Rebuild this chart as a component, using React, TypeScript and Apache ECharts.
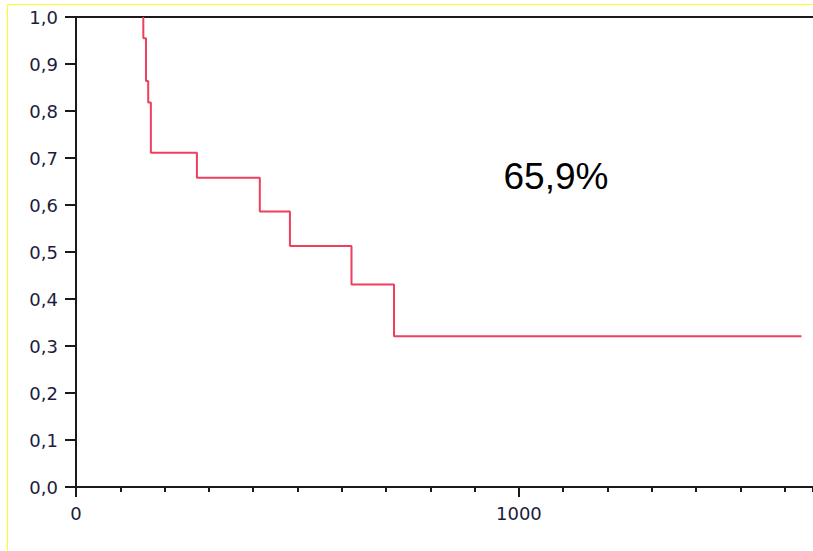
import React, { useEffect, useRef } from "react";
import * as echarts from "echarts";

// Kaplan-Meier style survival curve
const eventTimes = [152, 158, 163, 169, 273, 415, 483, 622, 718];
const survival = [0.955, 0.864, 0.818, 0.711, 0.658, 0.586, 0.513, 0.431, 0.321];
const lastFollowUp = 1638;
const startValue = 1.0;
const xLabelValues = [0, 1000];
const yTickValues = [0, 0.1, 0.2, 0.3, 0.4, 0.5, 0.6, 0.7, 0.8, 0.9, 1.0];
const annotation = "65,9%";

const X_MAX = 1664;

export default function App() {
  const ref = useRef<HTMLDivElement>(null);
  useEffect(() => {
    if (!ref.current) return;
    const chart = echarts.init(ref.current, undefined, { renderer: "svg" });
    const data: [number, number][] = [[eventTimes[0], startValue]];
    eventTimes.forEach((t, i) => data.push([t, survival[i]]));
    data.push([lastFollowUp, survival[survival.length - 1]]);

    const labelColor = "#1c1c3c";
    const lineColor = "#1a1a1a";
    const labelFont = "DejaVu Sans, Verdana, sans-serif";
    chart.setOption({
      animation: false,
      backgroundColor: "#ffffff",
      grid: { left: 76, top: 17, right: 0, bottom: 64, containLabel: false },
      xAxis: [
        {
          type: "value",
          position: "bottom",
          min: 0,
          max: X_MAX,
          interval: 1000,
          splitLine: { show: false },
          axisLine: { show: true, lineStyle: { color: lineColor, width: 2 } },
          axisTick: { show: true, length: 10, lineStyle: { color: lineColor, width: 2 } },
          axisLabel: {
            show: true,
            margin: 17,
            showMaxLabel: false,
            fontFamily: labelFont,
            fontSize: 18,
            color: labelColor,
            formatter: (v: number) => (xLabelValues.includes(v) ? String(v) : ""),
          },
        },
        {
          type: "value",
          position: "bottom",
          min: 0,
          max: X_MAX,
          interval: 100,
          splitLine: { show: false },
          axisLine: { show: false },
          axisTick: { show: true, length: 5, lineStyle: { color: lineColor, width: 2 } },
          axisLabel: { show: false },
        },
        {
          type: "value",
          position: "top",
          min: 0,
          max: X_MAX,
          splitLine: { show: false },
          axisLine: { show: true, lineStyle: { color: lineColor, width: 2 } },
          axisTick: { show: false },
          axisLabel: { show: false },
        },
      ],
      yAxis: {
        type: "value",
        min: 0,
        max: 1,
        interval: 0.1,
        splitLine: { show: false },
        axisLine: { show: true, lineStyle: { color: lineColor, width: 2 } },
        axisTick: { show: true, length: 11, lineStyle: { color: lineColor, width: 2 } },
        axisLabel: {
          margin: 18,
          fontFamily: labelFont,
          fontSize: 18,
          color: labelColor,
          formatter: (v: number) => {
            const m = yTickValues.find((t) => Math.abs(t - v) < 1e-6);
            return m === undefined ? "" : m.toFixed(1).replace(".", ",");
          },
        },
      },
      graphic: [
        {
          type: "rect",
          shape: { x: 7.5, y: 4.5, width: 1000, height: 1000 },
          style: { fill: "none", stroke: "#ffff22", lineWidth: 1 },
          silent: true,
          z: 0,
        },
        {
          type: "text",
          x: 556,
          y: 176,
          style: {
            text: annotation,
            fontFamily: "Liberation Sans, Arial, sans-serif",
            fontSize: 37,
            fill: "#000000",
            textAlign: "center",
            textVerticalAlign: "middle",
          },
          z: 10,
        },
      ],
      series: [
        {
          type: "line",
          xAxisIndex: 0,
          step: "end",
          data,
          symbol: "none",
          lineStyle: { color: "#ee3f5f", width: 2 },
          z: 5,
        },
      ],
    });
    return () => chart.dispose();
  }, []);
  return (
    <div
      ref={ref}
      style={{ position: "fixed", left: 0, top: 0, width: 813, height: 551, background: "#fff" }}
    />
  );
}
